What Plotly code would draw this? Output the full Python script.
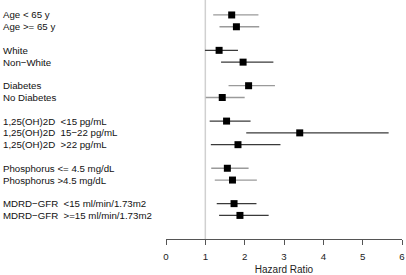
import plotly.graph_objects as go

labels = ["Age < 65 y", "Age >= 65 y",
          "White", "Non\u2212White",
          "Diabetes", "No Diabetes",
          "1,25(OH)2D  <15 pg/mL", "1,25(OH)2D  15\u221222 pg/mL", "1,25(OH)2D  >22 pg/mL",
          "Phosphorus <= 4.5 mg/dL", "Phosphorus >4.5 mg/dL",
          "MDRD\u2212GFR  <15 ml/min/1.73m2", "MDRD\u2212GFR  >=15 ml/min/1.73m2"]
rows = [0, 1, 3, 4, 6, 7, 9, 10, 11, 13, 14, 16, 17]
hr = [1.67, 1.79, 1.35, 1.96, 2.10, 1.43, 1.54, 3.40, 1.83, 1.56, 1.69, 1.73, 1.88]
lo = [1.20, 1.36, 0.99, 1.40, 1.59, 1.01, 1.11, 2.04, 1.14, 1.15, 1.24, 1.29, 1.35]
hi = [2.35, 2.37, 1.83, 2.73, 2.77, 2.00, 2.15, 5.66, 2.91, 2.10, 2.31, 2.30, 2.61]
group = [0, 0, 1, 1, 0, 0, 1, 1, 1, 0, 0, 1, 1]
xticks = [0, 1, 2, 3, 4, 5, 6]

line_colors = ["#9a9a9a", "#3a3a3a"]

fig = go.Figure()
fig.add_shape(type="line", x0=1, x1=1, y0=0, y1=1, yref="paper", xref="x",
              line=dict(color="#d0d0d0", width=1.5), layer="below")
for i in range(len(labels)):
    fig.add_trace(go.Scatter(x=[lo[i], hi[i]], y=[rows[i], rows[i]], mode="lines",
                             line=dict(color=line_colors[group[i]], width=1.3),
                             showlegend=False, hoverinfo="skip"))
fig.add_trace(go.Scatter(x=hr, y=rows, mode="markers",
                         marker=dict(symbol="square", size=7, color="black"),
                         showlegend=False))
for i, lab in enumerate(labels):
    fig.add_annotation(x=0, xref="paper", xshift=-165, y=rows[i], yref="y",
                       text=lab, showarrow=False, xanchor="left", yanchor="middle",
                       font=dict(size=9.7, color="#111111", family="Liberation Sans, Arial"))

fig.update_layout(
    width=406, height=275,
    margin=dict(l=166, r=4, t=0, b=36),
    paper_bgcolor="white", plot_bgcolor="white",
    font=dict(family="Liberation Sans, Arial", size=9.7, color="#222222"),
    xaxis=dict(range=[0, 6], tickvals=xticks, ticks="outside", ticklen=5,
               tickcolor="#555555", showline=True, linecolor="#555555", linewidth=1,
               showgrid=False, zeroline=False, ticklabelstandoff=3,
               title=dict(text="Hazard Ratio", font=dict(size=10), standoff=6)),
    yaxis=dict(range=[19, -1.27], visible=False, showgrid=False, zeroline=False),
)
fig.write_html("out.html", config={"displayModeBar": False},
               post_script="document.body.style.margin='0';document.body.style.padding='0';")
